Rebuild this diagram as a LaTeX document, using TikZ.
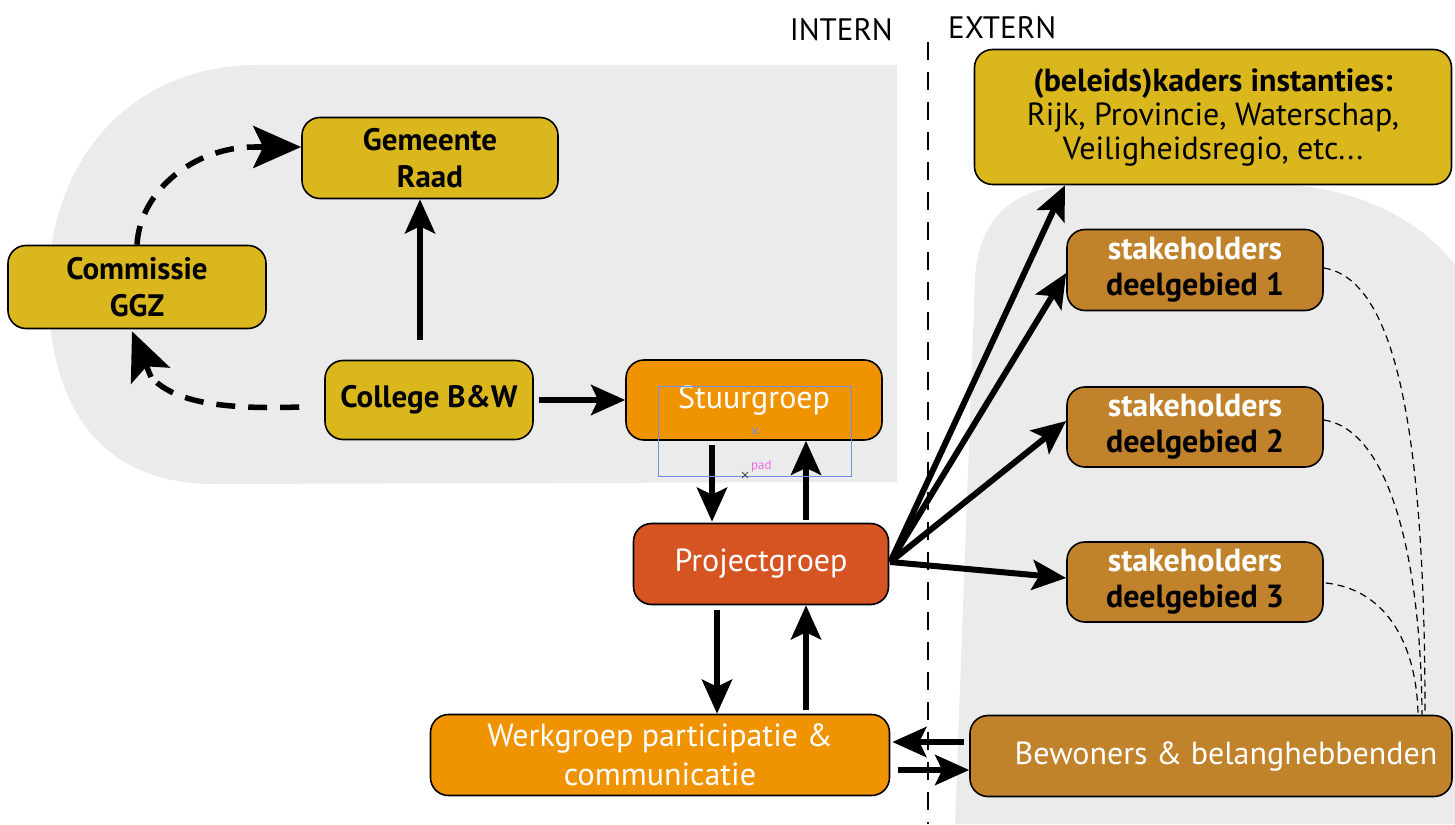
\documentclass[tikz,border=0pt]{standalone}
\usepackage{fontspec}
\setmainfont{PT Sans}
\usetikzlibrary{arrows.meta,calc}
\definecolor{gold}{HTML}{DBB71E}
\definecolor{orng}{HTML}{F09300}
\definecolor{redo}{HTML}{D55422}
\definecolor{brwn}{HTML}{C0822A}
\definecolor{bgray}{HTML}{EBEBEB}
\definecolor{ovblue}{HTML}{6F8FE8}
\definecolor{ovpink}{HTML}{E86BE8}
\tikzset{
  box/.style={draw=black, line width=1.6pt, rounded corners=18pt, align=center, inner sep=0pt,
    font=\fontsize{32}{37}\selectfont},
  goldbox/.style={box, fill=gold, font=\fontsize{31}{37}\selectfont\bfseries},
  arr/.style={line width=6pt, -{Stealth[length=34pt,width=30pt,inset=7pt]}},
  dline/.style={line width=5.5pt, dash pattern=on 19pt off 13pt},
  dtip/.style={line width=5.5pt, -{Stealth[length=48pt,width=42pt,inset=10pt]}},
  tdash/.style={line width=1.2pt, dash pattern=on 7pt off 5pt},
  lbl/.style={font=\fontsize{31}{36}\selectfont, inner sep=0pt}
}
\begin{document}
\begin{tikzpicture}[x=1pt,y=-1pt]
\useasboundingbox (0,0) rectangle (1455,824);
% background regions
\fill[bgray] (897,65) -- (250,65) .. controls (120,70) and (48,170) .. (48,290) .. controls (50,420) and (110,482) .. (210,484) -- (897,482) -- cycle;
\fill[bgray] (955,824) -- (975,280) .. controls (978,220) and (1010,186) .. (1080,185) -- (1290,185) .. controls (1370,190) and (1430,230) .. (1455,265) -- (1455,824) -- cycle;
% divider
\draw[line width=1.5pt, dash pattern=on 18pt off 12pt] (928,42) -- (928,824);
\node[lbl, anchor=east] (intern) at (893,30) {INTERN};
\node[lbl, anchor=west] (extern) at (948,28) {EXTERN};
% nodes
\node[goldbox, minimum width=256pt, minimum height=81pt] (gem) at (430,158) {Gemeente\\Raad};
\node[goldbox, minimum width=258pt, minimum height=83pt] (com) at (137,287) {Commissie\\GGZ};
\node[goldbox, minimum width=208pt, minimum height=79pt] (col) at (429,400) {College B\&W};
\node[box, fill=orng, text=white, minimum width=256pt, minimum height=80pt] (stu) at (754,400) {Stuurgroep};
\node[box, fill=redo, text=white, minimum width=255pt, minimum height=81pt] (proj) at (761,564) {Projectgroep};
\node[box, fill=orng, text=white, minimum width=459pt, minimum height=81pt, font=\fontsize{32}{39}\selectfont] (werk) at (660,755) {Werkgroep participatie \&\\communicatie};
\node[box, fill=brwn, text=white, minimum width=482pt, minimum height=81pt] (bew) at (1211,756) {\hspace*{30pt}Bewoners \& belanghebbenden};
\node[box, fill=gold, minimum width=477pt, minimum height=135pt, font=\fontsize{32}{34}\selectfont] (kad) at (1213,117) {\bfseries (beleids)kaders instanties:\\Rijk, Provincie, Waterschap,\\Veiligheidsregio, etc...};
\node[box, fill=brwn, minimum width=256pt, minimum height=81pt, font=\fontsize{32}{36}\selectfont\bfseries] (st1) at (1195,270) {\textcolor{white}{stakeholders}\\deelgebied 1};
\node[box, fill=brwn, minimum width=256pt, minimum height=80pt, font=\fontsize{32}{36}\selectfont\bfseries] (st2) at (1195,427) {\textcolor{white}{stakeholders}\\deelgebied 2};
\node[box, fill=brwn, minimum width=256pt, minimum height=80pt, font=\fontsize{32}{36}\selectfont\bfseries] (st3) at (1195,582) {\textcolor{white}{stakeholders}\\deelgebied 3};
% arrows
\draw[arr] ($(col.north)+(-9,-20)$) -- ($(gem.south)+(-10,0)$);
\draw[arr] ($(col.east)+(5,0)$) -- (stu.west);
% dashed: College -> Commissie
\coordinate (cb) at (151,377);
\draw[dline] ($(col.west)+(-25,7)$) .. controls (215,410) and (172,400) .. (cb);
\draw[dtip] (cb) -- ($(com.south)+(-5,2)$);
% dashed: Commissie -> Gemeente
\coordinate (gb) at (254,147);
\draw[dline] (com.north) .. controls (140,190) and (195,147) .. (gb);
\draw[dtip] (gb) -- ($(gem.west)+(0,-11)$);
\draw[arr] ($(stu.south)+(-42,4)$) -- ($(proj.north)+(-49,-1)$);
\draw[arr] ($(proj.north)+(45,-3)$) -- ($(stu.south)+(52,0)$);
\draw[arr] ($(proj.south)+(-44,5)$) -- ($(werk.north)+(57,0)$);
\draw[arr] ($(werk.north)+(146,-4)$) -- ($(proj.south)+(45,0)$);
\draw[arr] ($(bew.west)+(-5,-14)$) -- ($(werk.east)+(2,-13)$);
\draw[arr] ($(werk.east)+(8,15)$) -- ($(bew.west)+(0,14)$);
\draw[arr] ($(proj.east)+(1,-2)$) -- ($(kad.south)+(-148,0)$);
\draw[arr] ($(proj.east)+(1,-2)$) -- ($(st1.west)+(0,3)$);
\draw[arr] ($(proj.east)+(1,-2)$) -- ($(st2.west)+(0,-6)$);
\draw[arr] ($(proj.east)+(1,-2)$) -- ($(st3.west)+(0,-4)$);
% thin dashed links
\draw[tdash] ($(st1.east)+(0,-2)$) .. controls (1400,280) and (1425,450) .. ($(bew.north)+(214,0)$);
\draw[tdash] ($(st2.east)+(0,-7)$) .. controls (1390,430) and (1421,560) .. ($(bew.north)+(211,0)$);
\draw[tdash] ($(st3.east)+(2,1)$) .. controls (1390,590) and (1417,650) .. ($(bew.north)+(207,0)$);
% overlay artefact
\draw[ovblue, line width=1pt] (658,386) rectangle (851,476);
\draw[ovblue, line width=0.8pt] (752,428) -- (758,434) (752,434) -- (758,428);
\draw[black!70, line width=0.8pt] (742,472) -- (748,478) (742,478) -- (748,472);
\node[ovpink, font=\fontsize{13}{13}\selectfont, anchor=west, inner sep=0pt] (pad) at (751,466) {pad};
\end{tikzpicture}
\end{document}
